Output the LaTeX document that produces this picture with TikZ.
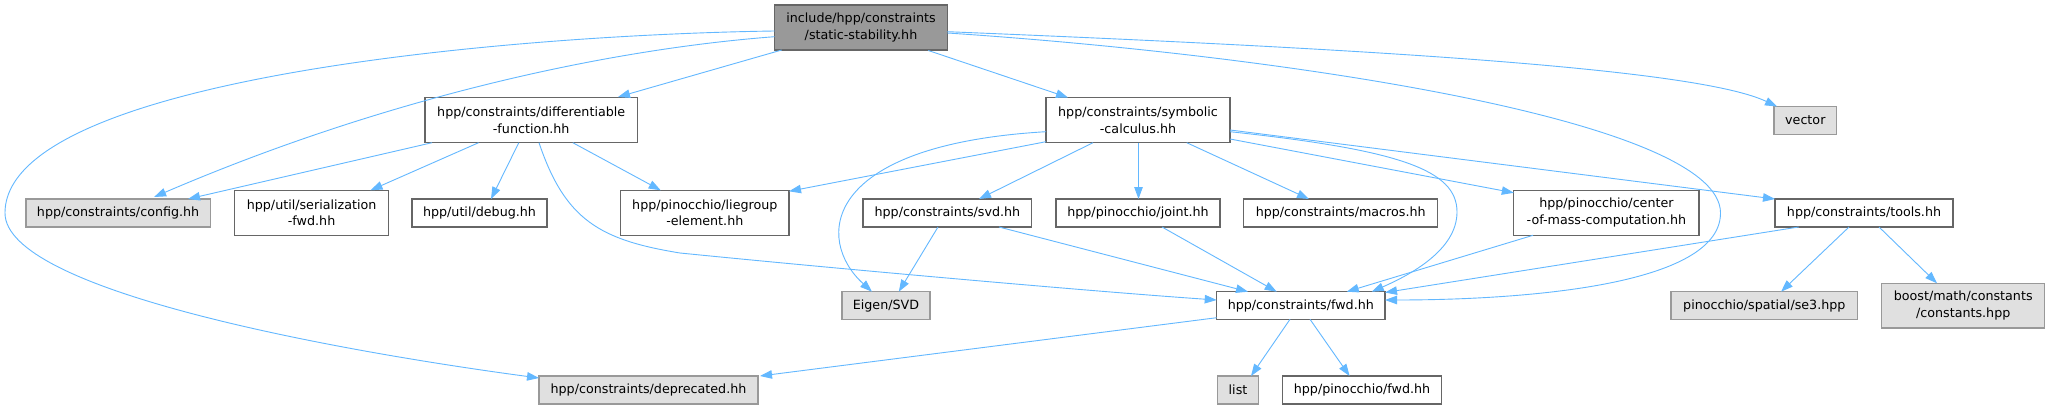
\documentclass[tikz,border=0pt]{standalone}
\usepackage{fontspec}
\setmainfont{DejaVu Sans}
\usetikzlibrary{arrows.meta,calc}
\definecolor{edgec}{HTML}{63B8FF}
\definecolor{mainfill}{HTML}{999999}
\definecolor{darkb}{HTML}{666666}
\definecolor{grayfill}{HTML}{E0E0E0}
\definecolor{grayb}{HTML}{999999}
\begin{document}
\begin{tikzpicture}[x=1pt,y=-1pt,
  box/.style={draw=darkb,fill=white,line width=1.2pt,inner sep=0pt,align=center,
    font=\fontsize{12.7}{16.7}\selectfont},
  mainbox/.style={box,fill=mainfill},
  graybox/.style={box,draw=grayb,fill=grayfill},
  edge/.style={draw=edgec,line width=0.9pt,-{Triangle[length=12pt,width=8.5pt]}}]
\fill[white] (0,0) rectangle (2049,409);
\useasboundingbox (0,0) rectangle (2049,409);
% nodes
\node[mainbox,minimum width=173pt,minimum height=45pt] (main) at (861,27.5) {include/hpp/constraints\\/static-stability.hh};
\node[box,minimum width=212.5pt,minimum height=45pt] (diff) at (531.2,120.2) {hpp/constraints/differentiable\\-function.hh};
\node[box,minimum width=184pt,minimum height=45pt] (sym) at (1138,120.2) {hpp/constraints/symbolic\\-calculus.hh};
\node[graybox,minimum width=62.6pt,minimum height=27.6pt] (vector) at (1805.3,120.5) {vector};
\node[graybox,minimum width=184.4pt,minimum height=28pt] (config) at (118.1,213) {hpp/constraints/config.hh};
\node[box,minimum width=154.4pt,minimum height=45pt] (serial) at (311.6,212.8) {hpp/util/serialization\\-fwd.hh};
\node[box,minimum width=135pt,minimum height=28pt] (debug) at (479.5,213) {hpp/util/debug.hh};
\node[box,minimum width=168.5pt,minimum height=45pt] (lie) at (704.8,212.8) {hpp/pinocchio/liegroup\\-element.hh};
\node[box,minimum width=168.8pt,minimum height=28pt] (svdhh) at (947.4,213) {hpp/constraints/svd.hh};
\node[box,minimum width=164pt,minimum height=28pt] (joint) at (1138,213) {hpp/pinocchio/joint.hh};
\node[box,minimum width=193.7pt,minimum height=28pt] (macros) at (1340.7,213) {hpp/constraints/macros.hh};
\node[box,minimum width=185.2pt,minimum height=45pt] (com) at (1606.4,212.8) {hpp/pinocchio/center\\-of-mass-computation.hh};
\node[box,minimum width=178pt,minimum height=28pt] (tools) at (1864,213) {hpp/constraints/tools.hh};
\node[graybox,minimum width=88pt,minimum height=27.6pt] (eigen) at (886,305.5) {Eigen/SVD};
\node[box,minimum width=168.3pt,minimum height=27.6pt] (fwd) at (1300.8,305.5) {hpp/constraints/fwd.hh};
\node[graybox,minimum width=186.6pt,minimum height=27.6pt] (se3) at (1764.3,305.5) {pinocchio/spatial/se3.hpp};
\node[graybox,minimum width=163pt,minimum height=44.7pt] (boost) at (1963.2,305.7) {boost/math/constants\\/constants.hpp};
\node[graybox,minimum width=219pt,minimum height=28pt] (dep) at (648.5,390) {hpp/constraints/deprecated.hh};
\node[graybox,minimum width=41pt,minimum height=28pt] (list) at (1238,390) {list};
\node[box,minimum width=158.8pt,minimum height=28pt] (pfwd) at (1362,390) {hpp/pinocchio/fwd.hh};
% edges from main
\draw[edge] ($(main)+(-86.5,3.5)$) .. controls (500,35) and (5,80) .. (5,213)
   .. controls (5,290) and (330,350) .. ($(dep)+(-109.5,-12)$);
\draw[edge] ($(main)+(-86.5,9.2)$) .. controls (600,50) and (380,100) .. ($(config)+(36,-16)$);
\draw[edge] ($(main)+(-79.3,22.5)$) -- ($(diff)+(86.8,-23.2)$);
\draw[edge] ($(main)+(67.3,23)$) -- ($(sym)+(-70,-22.7)$);
\draw[edge] ($(main)+(86.3,4.2)$) .. controls (1400,50) and (1700,70) .. ($(vector)+(-28.3,-14)$);
\draw[edge] ($(main)+(86.3,5.5)$) .. controls (1280,55) and (1720.5,120) .. (1720.5,213)
   .. controls (1720.5,290) and (1500,300) .. ($(fwd)+(84.2,-5.5)$);
% edges from diff
\draw[edge] ($(diff)+(-99.2,22.5)$) -- ($(config)+(69.9,-14)$);
\draw[edge] ($(diff)+(-52.6,22.5)$) -- ($(serial)+(58.9,-22.5)$);
\draw[edge] ($(diff)+(-12.4,22.5)$) -- ($(debug)+(11.5,-14)$);
\draw[edge] ($(diff)+(7.8,22.5)$) .. controls (565,220) and (600,240) .. (680,253)
   .. controls (850,270) and (1100,292) .. ($(fwd)+(-84.1,-5.5)$);
\draw[edge] ($(diff)+(41.6,22.5)$) -- ($(lie)+(-44.1,-22.5)$);
% edges from sym
\draw[edge] ($(sym)+(-92,21.5)$) -- ($(lie)+(84.2,-21.5)$);
\draw[edge] ($(sym)+(-92,11.5)$) .. controls (820,145) and (815,240) .. ($(eigen)+(-14,-13.8)$);
\draw[edge] ($(sym)+(-45,22.5)$) -- ($(svdhh)+(31.6,-14)$);
\draw[edge] ($(sym)+(0.5,22.5)$) -- ($(joint)+(0.5,-14)$);
\draw[edge] ($(sym)+(48.7,22.5)$) -- ($(macros)+(-31.7,-14)$);
\draw[edge] ($(sym)+(92,18.8)$) -- ($(com)+(-92.6,-20)$);
\draw[edge] ($(sym)+(92,9.8)$) -- ($(tools)+(-89,-14)$);
\draw[edge] ($(sym)+(92,11.5)$) .. controls (1400,150) and (1457,170) .. (1457,212)
   .. controls (1457,250) and (1410,275) .. ($(fwd)+(70.9,-13.8)$);
% edges from svd, joint, com, tools
\draw[edge] ($(svdhh)+(-9.4,14)$) -- ($(eigen)+(12.8,-13.8)$);
\draw[edge] ($(svdhh)+(51.6,14)$) -- ($(fwd)+(-52.8,-13.8)$);
\draw[edge] ($(joint)+(24,14)$) -- ($(fwd)+(-24.1,-13.8)$);
\draw[edge] ($(com)+(-73.4,22.5)$) -- ($(fwd)+(45.9,-13.8)$);
\draw[edge] ($(tools)+(-65.3,14)$) -- ($(fwd)+(84.2,-13)$);
\draw[edge] ($(tools)+(-15,14)$) -- ($(se3)+(16.7,-13.8)$);
\draw[edge] ($(tools)+(15,14)$) -- ($(boost)+(-26.2,-22.4)$);
% edges from fwd
\draw[edge] ($(fwd)+(-84.1,12.2)$) -- ($(dep)+(111.5,-14)$);
\draw[edge] ($(fwd)+(-10.8,13.8)$) -- ($(list)+(13,-14)$);
\draw[edge] ($(fwd)+(9.2,13.8)$) -- ($(pfwd)+(-12.4,-14)$);
\end{tikzpicture}
\end{document}
